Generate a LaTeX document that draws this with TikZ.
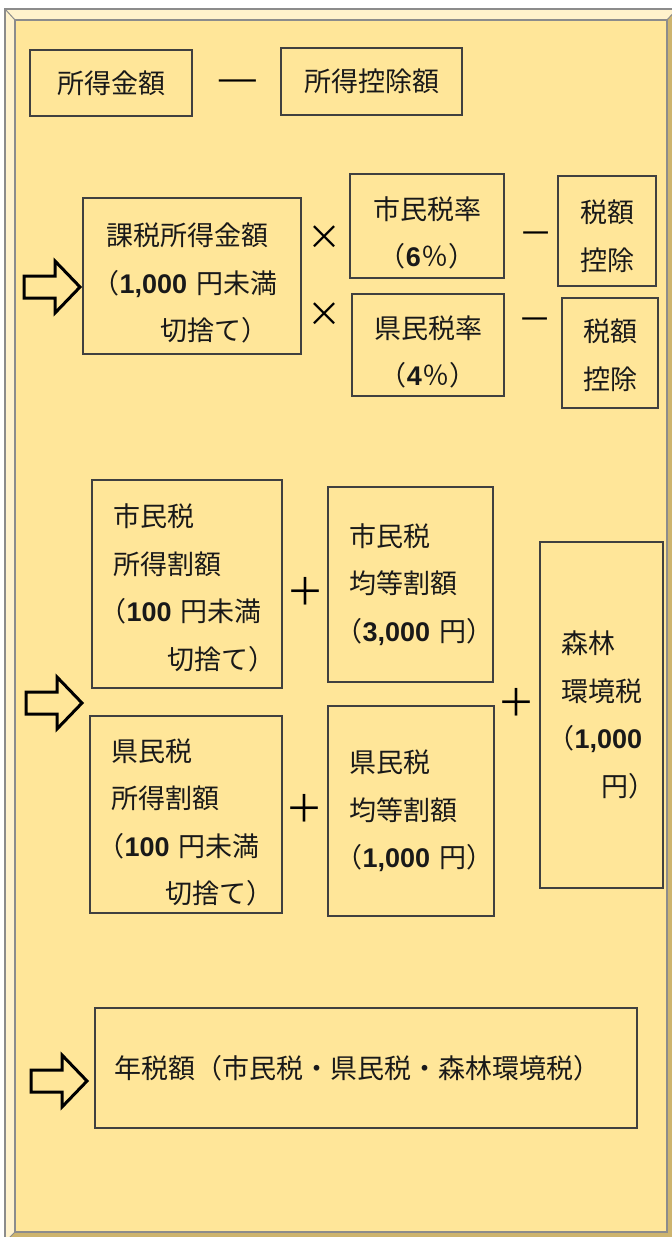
\documentclass[tikz,border=0pt]{standalone}
\usepackage{fontspec}
\setmainfont{Noto Sans CJK JP}
\newfontfamily\numfont{Liberation Sans}
\newcommand\bnum[1]{{\numfont\bfseries #1}}
\definecolor{bgyellow}{HTML}{FFE699}
\definecolor{bevellight}{HTML}{FFF2CC}
\definecolor{beveldark}{HTML}{CDB46E}
\definecolor{framegray}{HTML}{8C8C8C}
\tikzset{
  taxbox/.style={draw=black!75, line width=1.3pt, fill=bgyellow, inner ysep=0pt,
    text=black!90, font=\fontsize{27}{47.5}\selectfont},
  lower/.style={execute at begin node={\rule{0pt}{\dimexpr 23pt+#1pt+#1pt\relax}}},
  op/.style={text=black, font=\fontsize{27}{30}\selectfont, inner sep=0pt},
  blockarrow/.style={draw=black, line width=3pt, fill=bgyellow, line join=miter}
}

\begin{document}
\begin{tikzpicture}[x=1pt,y=-1pt]
   \useasboundingbox (0,0) rectangle (672,1237);

   %% Rahmen
   \fill[bevellight] (5,9) rectangle (677,1242);
   \fill[beveldark] (677,9) -- (667,20) -- (667,1232) -- (15,1232) -- (5,1242) -- (677,1242) -- cycle;
   \fill[bgyellow] (15,20) rectangle (667,1232);
   \draw[framegray, line width=2pt] (5,9) rectangle (677,1242);
   \draw[framegray, line width=2pt] (15,20) rectangle (667,1232);
   \draw[framegray, line width=1pt] (5,9) -- (15,20) (5,1242) -- (15,1232) (677,9) -- (667,20);

   %% Zeile 1
   \node[taxbox, minimum width=162pt, minimum height=66pt, inner xsep=0pt] (shotoku) at (111,83) {所得金額};
   \node[op] (minusA) at (238,86) {\scalebox{1.5}[1]{一}};
   \node[taxbox, minimum width=181pt, minimum height=67pt, inner xsep=0pt] (koujo) at (371.5,81.5) {所得控除額};

   %% Zeile 2
   \node[taxbox, lower=7, minimum width=218pt, minimum height=156pt, inner xsep=23pt, text width=172pt, align=left] (kazei) at (192,276)
     {課税所得金額\\\hspace*{-.5em}（\bnum{1,000}~円未満\\\hspace*{2em}切捨て）};
   \node[op, font=\fontsize{34}{36}\selectfont] (timesA) at (324,238) {×};
   \node[op, font=\fontsize{34}{36}\selectfont] (timesB) at (324,315) {×};
   \node[taxbox, lower=7, minimum height=104pt, inner xsep=0pt, text width=154pt, align=center] (shiritsu) at (427,226)
     {市民税率\\（\bnum{6}％）};
   \node[taxbox, lower=7, minimum height=102pt, inner xsep=0pt, text width=152pt, align=center] (kenritsu) at (428,345)
     {県民税率\\（\bnum{4}％）};
   \node[op] (minusB) at (536,238) {一};
   \node[op] (minusC) at (535,324) {一};
   \node[taxbox, lower=5, minimum height=110pt, inner xsep=0pt, text width=98pt, align=center] (kojoA) at (607,231) {税額\\控除};
   \node[taxbox, lower=2, minimum height=110pt, inner xsep=0pt, text width=96pt, align=center] (kojoB) at (610,353) {税額\\控除};

   %% Zeile 3
   \node[taxbox, lower=4, minimum width=190pt, minimum height=208pt, inner xsep=21pt, text width=148pt, align=left] (shiSho) at (187,584)
     {市民税\\所得割額\\\hspace*{-.5em}（\bnum{100}~円未満\\\hspace*{2em}切捨て）};
   \node[op, font=\fontsize{38}{40}\selectfont] (plusA) at (305,591) {＋};
   \node[taxbox, minimum width=165pt, minimum height=195pt, inner xsep=21pt, text width=123pt, align=left] (shiKin) at (410.5,584.5)
     {市民税\\均等割額\\\hspace*{-.5em}（\bnum{3,000}~円）};
   \node[taxbox, lower=8, minimum width=192pt, minimum height=197pt, inner xsep=21pt, text width=150pt, align=left] (kenSho) at (186,814.5)
     {県民税\\所得割額\\\hspace*{-.5em}（\bnum{100}~円未満\\\hspace*{2em}切捨て）};
   \node[op, font=\fontsize{38}{40}\selectfont] (plusB) at (304,808) {＋};
   \node[taxbox, minimum width=166pt, minimum height=210pt, inner xsep=21pt, text width=124pt, align=left] (kenKin) at (411,811)
     {県民税\\均等割額\\\hspace*{-.5em}（\bnum{1,000}~円）};
   \node[op, font=\fontsize{38}{40}\selectfont] (plusC) at (516,702) {＋};
   \node[taxbox, minimum width=123pt, minimum height=346pt, inner xsep=21pt, text width=81pt, align=left] (shinrin) at (601.5,715)
     {森林\\環境税\\\hspace*{-.5em}（\bnum{1,000}\\\hspace*{1.5em}円）};

   %% Zeile 4
   \node[taxbox, minimum width=542pt, minimum height=120pt, inner xsep=19pt, text width=504pt, align=left] (nenzei) at (366,1068)
     {年税額（市民税・県民税・森林環境税）};

   %% Pfeile
   \foreach \ax/\ay in {24/287, 26/703, 31/1081}
     \draw[blockarrow] (\ax,\ay-11) -- ++(31,0) -- ++(0,-15) -- ++(25,26) -- ++(-25,26) -- ++(0,-15) -- ++(-31,0) -- cycle;
\end{tikzpicture}
\end{document}
